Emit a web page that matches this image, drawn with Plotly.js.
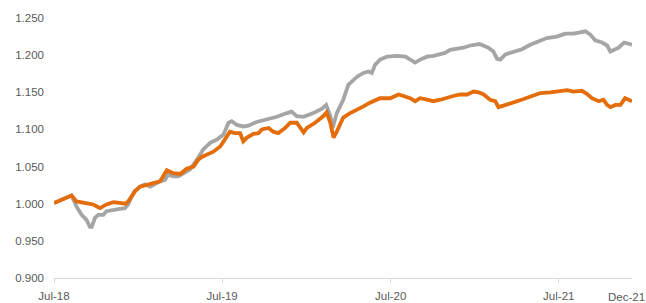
<!DOCTYPE html>
<html>
<head>
<meta charset="utf-8">
<script src="https://cdn.plot.ly/plotly-3.0.1.min.js"></script>
<style>html,body{margin:0;padding:0;background:#fff;}#chart{width:646px;height:303px;}</style>
</head>
<body>
<div id="chart"></div>
<script>
const grayDates = ["2018-07-01","2018-07-14","2018-07-28","2018-08-08","2018-08-19","2018-08-30","2018-09-10","2018-09-17","2018-09-21","2018-09-28","2018-10-05","2018-10-16","2018-10-23","2018-11-07","2018-11-21","2018-12-02","2018-12-09","2018-12-17","2018-12-24","2019-01-04","2019-01-15","2019-01-26","2019-02-05","2019-02-16","2019-02-27","2019-03-06","2019-03-17","2019-03-28","2019-04-08","2019-04-22","2019-05-07","2019-05-21","2019-06-05","2019-06-19","2019-07-04","2019-07-15","2019-07-22","2019-08-02","2019-08-16","2019-08-27","2019-09-14","2019-10-06","2019-10-28","2019-11-19","2019-11-29","2019-12-10","2019-12-25","2020-01-15","2020-02-03","2020-02-12","2020-02-21","2020-02-26","2020-03-06","2020-03-20","2020-03-31","2020-04-19","2020-05-03","2020-05-14","2020-05-21","2020-05-28","2020-06-08","2020-06-23","2020-07-15","2020-08-02","2020-08-12","2020-08-23","2020-09-03","2020-09-18","2020-10-02","2020-10-17","2020-10-27","2020-11-07","2020-11-22","2020-12-06","2020-12-21","2021-01-10","2021-01-29","2021-02-09","2021-02-17","2021-02-24","2021-03-07","2021-03-25","2021-04-12","2021-04-30","2021-05-18","2021-06-05","2021-06-27","2021-07-15","2021-08-02","2021-08-17","2021-08-28","2021-09-07","2021-09-18","2021-10-03","2021-10-14","2021-10-21","2021-10-30","2021-11-08","2021-11-20","2021-11-30","2021-12-07"];
const grayValues = [1.001,1.004,1.008,1.011,0.996,0.985,0.978,0.969,0.969,0.981,0.985,0.985,0.990,0.992,0.993,0.994,0.999,1.010,1.017,1.023,1.026,1.023,1.027,1.030,1.032,1.039,1.037,1.037,1.041,1.046,1.059,1.073,1.082,1.086,1.093,1.109,1.111,1.106,1.104,1.105,1.110,1.113,1.117,1.122,1.124,1.118,1.117,1.122,1.128,1.133,1.118,1.102,1.122,1.140,1.160,1.171,1.176,1.178,1.176,1.187,1.194,1.198,1.199,1.198,1.194,1.190,1.194,1.198,1.199,1.201,1.203,1.207,1.208,1.210,1.213,1.215,1.210,1.205,1.195,1.194,1.201,1.204,1.208,1.214,1.219,1.223,1.225,1.229,1.229,1.231,1.232,1.228,1.220,1.217,1.213,1.205,1.208,1.210,1.217,1.216,1.214];

const orangeDates = ["2018-07-01","2018-07-14","2018-07-28","2018-08-08","2018-08-19","2018-09-03","2018-09-13","2018-09-24","2018-10-09","2018-10-23","2018-11-07","2018-11-21","2018-12-04","2018-12-09","2018-12-17","2018-12-24","2019-01-04","2019-01-15","2019-01-26","2019-02-05","2019-02-16","2019-03-03","2019-03-17","2019-04-01","2019-04-15","2019-04-30","2019-05-10","2019-05-18","2019-05-29","2019-06-12","2019-06-27","2019-07-11","2019-07-18","2019-07-29","2019-08-09","2019-08-16","2019-08-24","2019-09-07","2019-09-18","2019-09-25","2019-10-10","2019-10-20","2019-10-31","2019-11-15","2019-11-26","2019-12-10","2019-12-25","2020-01-01","2020-01-19","2020-02-06","2020-02-13","2020-02-21","2020-02-28","2020-03-06","2020-03-13","2020-03-20","2020-04-04","2020-04-11","2020-04-26","2020-05-03","2020-05-17","2020-05-25","2020-06-08","2020-06-30","2020-07-18","2020-07-29","2020-08-12","2020-08-23","2020-09-03","2020-09-18","2020-10-02","2020-10-17","2020-10-27","2020-11-14","2020-11-29","2020-12-14","2020-12-28","2021-01-08","2021-01-19","2021-02-02","2021-02-13","2021-02-20","2021-03-03","2021-03-25","2021-04-16","2021-05-04","2021-05-22","2021-06-13","2021-07-04","2021-07-19","2021-08-02","2021-08-20","2021-08-31","2021-09-11","2021-09-26","2021-10-06","2021-10-14","2021-10-21","2021-11-01","2021-11-12","2021-11-22","2021-12-03","2021-12-07"];
const orangeValues = [1.001,1.004,1.008,1.011,1.003,1.001,1.000,0.999,0.994,0.999,1.002,1.001,1.000,1.003,1.010,1.017,1.023,1.025,1.026,1.028,1.030,1.045,1.041,1.040,1.047,1.050,1.059,1.063,1.066,1.070,1.077,1.091,1.097,1.095,1.095,1.084,1.089,1.094,1.095,1.100,1.102,1.097,1.095,1.102,1.109,1.109,1.096,1.102,1.109,1.118,1.123,1.109,1.089,1.097,1.108,1.116,1.122,1.124,1.129,1.131,1.136,1.138,1.142,1.142,1.147,1.145,1.142,1.138,1.142,1.140,1.138,1.140,1.142,1.145,1.147,1.147,1.151,1.150,1.147,1.140,1.138,1.130,1.132,1.136,1.141,1.145,1.149,1.150,1.151,1.153,1.151,1.152,1.148,1.142,1.138,1.140,1.133,1.130,1.133,1.133,1.142,1.139,1.138];

const xTickVals = ["2018-07-01","2019-07-01","2020-07-01","2021-07-01"];
const xTickText = ["Jul-18","Jul-19","Jul-20","Jul-21"];
const xEndLabelDate = "2021-11-25";
const xEndLabel = "Dec-21";
const yTickVals = [0.900,0.950,1.000,1.050,1.100,1.150,1.200,1.250];
const yTickText = ["0.900","0.950","1.000","1.050","1.100","1.150","1.200","1.250"];

const font = {family: "Liberation Sans, Arial, sans-serif", size: 11.5, color: "#595959"};

const traces = [
  {x: grayDates, y: grayValues, type: "scatter", mode: "lines", line: {color: "#A5A5A5", width: 3.8}, hoverinfo: "skip"},
  {x: orangeDates, y: orangeValues, type: "scatter", mode: "lines", line: {color: "#E46C0A", width: 3.8}, hoverinfo: "skip"}
];

const layout = {
  width: 646, height: 303,
  margin: {l: 54, r: 14, t: 18, b: 25, pad: 0},
  paper_bgcolor: "#ffffff", plot_bgcolor: "#ffffff",
  showlegend: false,
  font: font,
  xaxis: {
    type: "date",
    range: ["2018-07-01", "2021-12-07"],
    tickmode: "array", tickvals: xTickVals, ticktext: xTickText,
    showgrid: false, zeroline: false,
    showline: true, linecolor: "#D9D9D9", linewidth: 1,
    ticks: "outside", ticklen: 4, tickcolor: "#D9D9D9",
    ticklabelstandoff: 3,
    tickfont: font
  },
  yaxis: {
    range: [0.9, 1.25],
    tickmode: "array", tickvals: yTickVals, ticktext: yTickText,
    showgrid: false, zeroline: false, showline: false,
    ticks: "", ticklabelstandoff: 9,
    tickfont: font
  },
  annotations: [{
    x: xEndLabelDate, xref: "x", y: 0, yref: "paper",
    text: xEndLabel, showarrow: false, font: font,
    xanchor: "center", yanchor: "top", yshift: -11
  }]
};

Plotly.newPlot("chart", traces, layout, {staticPlot: true, displayModeBar: false});
</script>
</body>
</html>
